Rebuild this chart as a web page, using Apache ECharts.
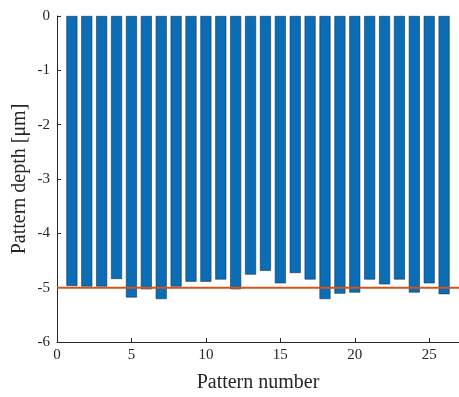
<!DOCTYPE html>
<html>
<head>
<meta charset="utf-8">
<script src="https://cdn.jsdelivr.net/npm/echarts@6/dist/echarts.min.js"></script>
<style>
  html, body { margin: 0; padding: 0; background: #fff; }
  #chart { width: 459px; height: 397px; }
</style>
</head>
<body>
<div id="chart"></div>
<script>
const patternNumbers = [1, 2, 3, 4, 5, 6, 7, 8, 9, 10, 11, 12, 13, 14, 15, 16, 17, 18, 19, 20, 21, 22, 23, 24, 25, 26]
const depths = [-4.97, -4.98, -4.98, -4.84, -5.18, -5.03, -5.21, -4.98, -4.89, -4.89, -4.85, -5.03, -4.76,
    -4.69, -4.92, -4.73, -4.85, -5.21, -5.11, -5.09, -4.85, -4.94, -4.85, -5.09, -4.92, -5.12]
const targetDepth = -5
const xRange = [0, 27]
const yRange = [-6, 0]

const font = '"Liberation Serif", "Times New Roman", serif'
const chart = echarts.init(document.getElementById('chart'))

chart.setOption({
    animation: false,
    grid: { left: 57, right: 0, top: 16, bottom: 55, containLabel: false, outerBoundsMode: 'none' },
    xAxis: {
        type: 'value',
        min: xRange[0],
        max: xRange[1],
        interval: 5,
        name: 'Pattern number',
        nameLocation: 'middle',
        nameGap: 31,
        nameMoveOverlap: false,
        nameTextStyle: { fontFamily: font, fontSize: 20, color: '#262626' },
        axisLine: { onZero: false, lineStyle: { color: '#262626', width: 1 } },
        axisTick: { inside: true, length: 4, lineStyle: { color: '#262626' } },
        axisLabel: { fontFamily: font, fontSize: 15, color: '#262626', margin: 6,
            showMaxLabel: false },
        splitLine: { show: false }
    },
    yAxis: {
        type: 'value',
        min: yRange[0],
        max: yRange[1],
        interval: 1,
        name: 'Pattern depth [μm]',
        nameLocation: 'middle',
        nameGap: 27,
        nameMoveOverlap: false,
        nameTextStyle: { fontFamily: font, fontSize: 20, color: '#262626' },
        axisLine: { show: true, onZero: false, lineStyle: { color: '#262626', width: 1 } },
        axisTick: { show: true, inside: true, length: 4, lineStyle: { color: '#262626' } },
        axisLabel: { fontFamily: font, fontSize: 15, color: '#262626', margin: 7 },
        splitLine: { show: false }
    },
    series: [
        {
            type: 'bar',
            data: patternNumbers.map((n, i) => [n, depths[i]]),
            barWidth: 11,
            itemStyle: { color: '#0a6db5', borderColor: '#1a3550', borderWidth: 0.6 }
        },
        {
            type: 'line',
            data: [[xRange[0], targetDepth], [xRange[1], targetDepth]],
            symbol: 'none',
            lineStyle: { color: '#D95319', width: 2 },
            z: 3
        }
    ]
})
</script>
</body>
</html>
